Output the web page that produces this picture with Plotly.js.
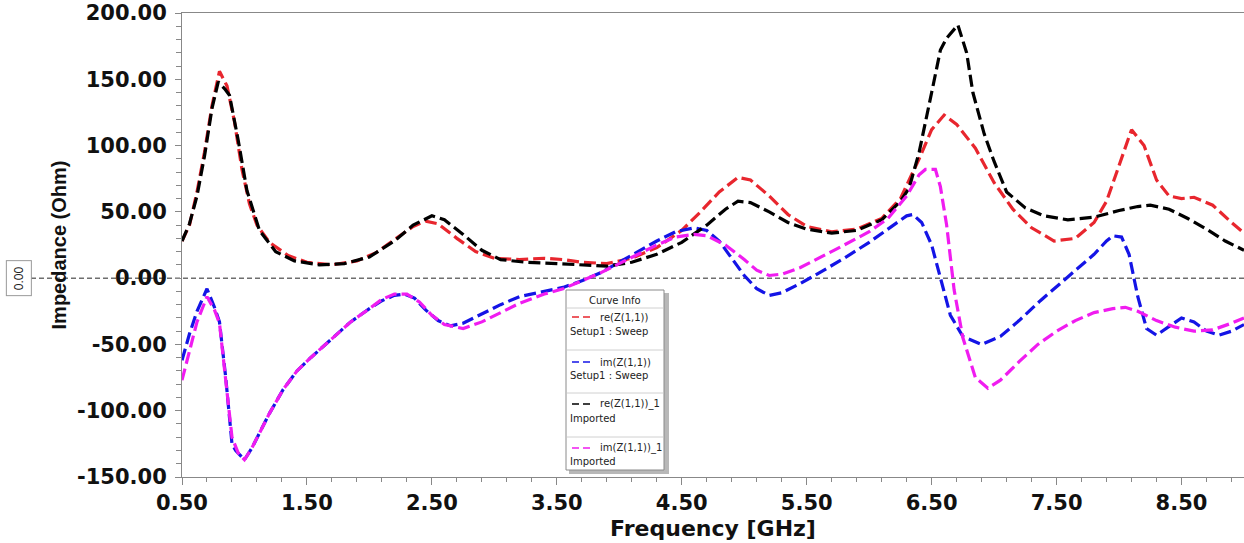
<!DOCTYPE html>
<html>
<head>
<meta charset="utf-8">
<script src="https://cdn.plot.ly/plotly-3.0.1.min.js"></script>
<style>
html,body{margin:0;padding:0;background:#fff;}
#chart{width:1244px;height:543px;}
</style>
</head>
<body>
<div id="chart"></div>
<script>
// ---- data ----
const freqRe = [0.5,0.56,0.62,0.68,0.74,0.8,0.86,0.92,0.98,1.04,1.1,1.2,1.35,1.5,1.7,1.9,2.05,2.2,2.35,2.45,2.55,2.7,2.85,3.0,3.2,3.4,3.55,3.7,3.9,4.1,4.3,4.5,4.65,4.8,4.95,5.05,5.2,5.35,5.5,5.7,5.9,6.1,6.25,6.4,6.5,6.6,6.7,6.85,7.0,7.15,7.3,7.48,7.65,7.8,7.9,8.0,8.1,8.2,8.3,8.4,8.5,8.6,8.75,8.9,9.0];
const reZ = [28,40,65,95,130,156,145,118,82,56,40,27,17,12,10,13,19,29,39,43,41,30,20,15,14,15,14,12,11,15,23,36,50,65,76,74,62,48,39,35,37,45,60,90,112,123,116,98,72,52,38,28,30,42,58,85,112,100,74,62,60,61,55,42,34];

const freqIm = [0.5,0.56,0.62,0.7,0.76,0.8,0.85,0.9,0.93,1.0,1.06,1.12,1.2,1.31,1.42,1.53,1.7,1.85,2.0,2.1,2.2,2.28,2.36,2.45,2.55,2.65,2.75,2.9,3.05,3.2,3.4,3.55,3.7,3.85,4.0,4.15,4.3,4.45,4.6,4.7,4.8,4.9,5.0,5.1,5.2,5.3,5.45,5.6,5.8,6.0,6.15,6.3,6.35,6.42,6.5,6.57,6.65,6.75,6.9,7.05,7.2,7.37,7.59,7.8,7.9,7.95,8.02,8.08,8.15,8.22,8.3,8.38,8.5,8.6,8.7,8.8,8.9,9.0];
const imZ = [-62,-42,-25,-8,-22,-33,-75,-125,-130,-137,-128,-117,-102,-84,-70,-60,-46,-33,-23,-17,-13,-12,-15,-24,-32,-36,-34,-27,-20,-14,-10,-7,-2,4,12,20,28,35,38,36,28,15,2,-8,-13,-11,-4,4,15,27,37,47,48,42,25,1,-28,-44,-50,-44,-32,-17,1,18,28,32,31,18,-14,-38,-43,-38,-30,-33,-40,-43,-40,-35];

const freqReImp = [0.5,0.56,0.62,0.68,0.74,0.79,0.84,0.88,0.95,1.02,1.12,1.25,1.4,1.6,1.8,2.0,2.2,2.35,2.5,2.6,2.75,2.9,3.05,3.25,3.5,3.7,3.9,4.1,4.3,4.5,4.7,4.85,4.95,5.05,5.2,5.35,5.5,5.7,5.9,6.1,6.25,6.32,6.4,6.5,6.57,6.62,6.71,6.78,6.83,6.92,7.0,7.1,7.25,7.4,7.59,7.8,8.0,8.15,8.25,8.4,8.55,8.7,8.85,9.0];
const reZImp = [28,41,62,92,128,148,143,138,104,66,36,20,13,10,11,16,28,40,47,44,33,21,14,12,11,10,9,12,18,27,40,52,58,57,50,42,37,34,36,44,58,68,95,140,172,181,191,170,140,109,88,65,53,47,44,46,51,54,55,52,45,37,28,21];

const freqImImp = [0.5,0.56,0.62,0.7,0.76,0.8,0.85,0.9,0.95,1.0,1.06,1.12,1.2,1.31,1.42,1.53,1.7,1.85,2.0,2.1,2.2,2.3,2.4,2.5,2.6,2.75,2.9,3.05,3.2,3.4,3.55,3.7,3.85,4.0,4.15,4.3,4.45,4.6,4.7,4.85,5.0,5.1,5.2,5.3,5.45,5.6,5.8,6.0,6.15,6.3,6.4,6.45,6.53,6.57,6.62,6.68,6.75,6.85,6.95,7.05,7.2,7.35,7.5,7.65,7.8,7.95,8.05,8.15,8.3,8.45,8.6,8.75,8.9,9.0];
const imZImp = [-77,-55,-33,-14,-24,-34,-75,-120,-132,-137,-128,-117,-102,-84,-70,-60,-46,-33,-23,-16,-12,-12,-18,-28,-35,-38,-33,-26,-19,-12,-8,-2,4,11,18,25,31,33,32,25,14,6,2,3,8,15,25,35,45,62,78,82,82,69,40,-9,-45,-75,-83,-77,-63,-50,-40,-32,-26,-23,-22,-25,-32,-37,-40,-39,-34,-30];

const seriesNames = ["re(Z(1,1))","im(Z(1,1))","re(Z(1,1))_1","im(Z(1,1))_1"];
const seriesSub = ["Setup1 : Sweep","Setup1 : Sweep","Imported","Imported"];
const seriesColors = ["#e8262e","#1414e6","#000000","#f01cf0"];
const xTickVals = [0.5,1.5,2.5,3.5,4.5,5.5,6.5,7.5,8.5];
const yTickVals = [-150,-100,-50,0,50,100,150,200];

// ---- layout helpers ----
const W = 1244, H = 543;
const L = 182, R = 0, T = 13, B = 66;
const pw = W - L - R, ph = H - T - B;
const px = x => (x - L) / pw;          // pixel -> paper x
const py = y => (H - B - y) / ph;      // pixel -> paper y
const WIDE = 'DejaVu Sans, Verdana, sans-serif';
const ARIAL = 'Liberation Sans, Arial, sans-serif';

const xs = [freqRe, freqIm, freqReImp, freqImImp];
const ys = [reZ, imZ, reZImp, imZImp];
const traces = ys.map((y, i) => ({
  x: xs[i], y: y, type: 'scatter', mode: 'lines', name: seriesNames[i],
  line: {color: seriesColors[i], width: 3.2, dash: '12px,5px'},
  hoverinfo: 'x+y+name'
}));

const shapes = [
  // zero marker line
  {type:'line', xref:'paper', yref:'paper', x0: px(31), x1: 1, y0: 150/350, y1: 150/350,
   line:{color:'#6e6e6e', width:1.5, dash:'5px,3px'}, layer:'below'},
  // legend shadow + box
  {type:'rect', xref:'paper', yref:'paper', x0: px(569), x1: px(669), y0: py(474), y1: py(293),
   fillcolor:'#b8b8b8', line:{width:0}, layer:'above'},
  {type:'rect', xref:'paper', yref:'paper', x0: px(566), x1: px(664), y0: py(470), y1: py(290),
   fillcolor:'#ffffff', line:{color:'#8a8a8a', width:1}, layer:'above'}
];
const sepY = [308, 350, 393, 437];
sepY.forEach(y => shapes.push({type:'line', xref:'paper', yref:'paper', x0: px(567), x1: px(663),
  y0: py(y), y1: py(y), line:{color:'#d0d0d0', width:1}, layer:'above'}));

const entryY = [317, 362, 404, 448];
const subY = [331, 375, 418, 461];
const annotations = [
  {xref:'paper', yref:'paper', x: px(615), y: py(300), text:'Curve Info', showarrow:false,
   font:{family: WIDE, size:10, color:'#222'}, xanchor:'center', yanchor:'middle'},
  {xref:'paper', yref:'paper', x: px(19), y: 150/350, text:'0.00', showarrow:false, textangle:-90,
   font:{family: ARIAL, size:12, color:'#222'}, bordercolor:'#999', borderwidth:1,
   borderpad:5, bgcolor:'#fff', xanchor:'center', yanchor:'middle'}
];
entryY.forEach((y, i) => {
  shapes.push({type:'line', xref:'paper', yref:'paper', x0: px(572), x1: px(592), y0: py(y), y1: py(y),
    line:{color: seriesColors[i], width:1.5, dash:'7px,4px'}, layer:'above'});
  annotations.push({xref:'paper', yref:'paper', x: px(598), y: py(y), text: seriesNames[i], showarrow:false,
    font:{family: WIDE, size:10, color:'#222'}, xanchor:'left', yanchor:'middle'});
  annotations.push({xref:'paper', yref:'paper', x: px(568), y: py(subY[i]), text: seriesSub[i], showarrow:false,
    font:{family: WIDE, size:10, color:'#222'}, xanchor:'left', yanchor:'middle'});
});

const layout = {
  width: W, height: H,
  margin: {l: L, r: R, t: T, b: B, pad: 0},
  paper_bgcolor: '#fff', plot_bgcolor: '#fff',
  showlegend: false,
  xaxis: {
    range: [0.5, 9.0], tickvals: xTickVals, ticktext: xTickVals.map(v => v.toFixed(2)),
    ticks: 'outside', ticklen: 7, tickcolor: '#888', tickwidth: 1,
    minor: {dtick: 0.2, tick0: 0.5, ticks: 'outside', ticklen: 4, tickcolor: '#888'},
    showline: true, linecolor: '#888', linewidth: 1, mirror: true, showgrid: false, zeroline: false,
    tickfont: {family: WIDE, size: 21, color: '#111', weight: 'bold'},
    title: {text: 'Frequency [GHz]', standoff: 6,
            font: {family: WIDE, size: 22, color: '#111', weight: 'bold'}},
    automargin: false
  },
  yaxis: {
    range: [-150, 200], tickvals: yTickVals, ticktext: yTickVals.map(v => v.toFixed(2)),
    ticks: 'outside', ticklen: 6, tickcolor: '#888', tickwidth: 1,
    minor: {dtick: 10, tick0: 0, ticks: 'outside', ticklen: 5, tickcolor: '#888'},
    showline: true, linecolor: '#888', linewidth: 1, mirror: true, showgrid: false, zeroline: false,
    tickfont: {family: WIDE, size: 21, color: '#111', weight: 'bold'},
    ticklabelstandoff: 4,
    title: {text: 'Impedance (Ohm)', standoff: 5,
            font: {family: ARIAL, size: 20, color: '#111', weight: 'bold'}},
    automargin: false
  },
  shapes: shapes,
  annotations: annotations
};

Plotly.newPlot('chart', traces, layout, {displayModeBar: false, staticPlot: true});
</script>
</body>
</html>
